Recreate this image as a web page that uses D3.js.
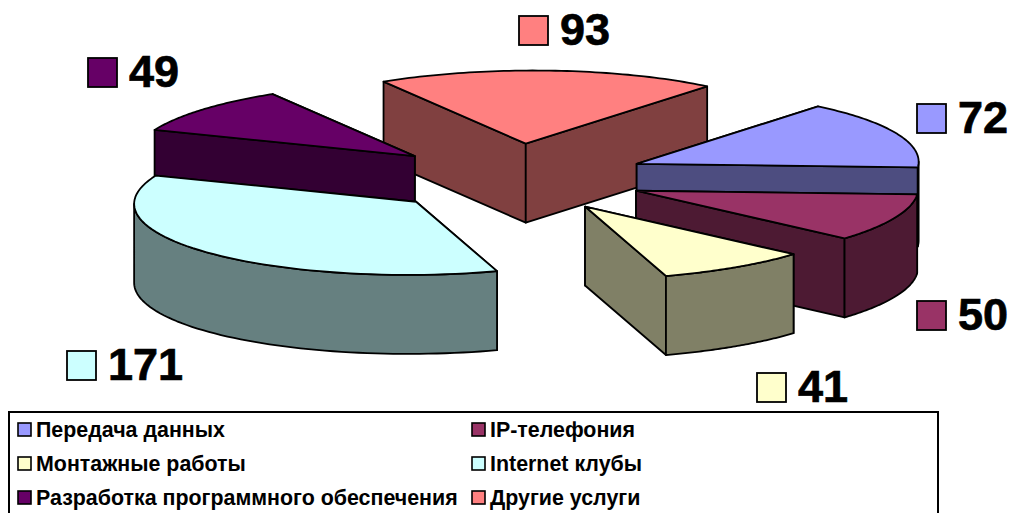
<!DOCTYPE html>
<html><head><meta charset="utf-8">
<script src="https://cdn.jsdelivr.net/npm/d3@7/dist/d3.min.js"></script>
<style>html,body{margin:0;padding:0;background:#fff;overflow:hidden}svg{display:block}text{font-family:"Liberation Sans",Arial,sans-serif;font-weight:bold;fill:#000}</style>
</head><body><svg id="c" width="1014" height="513"></svg>
<script>
const categories=["Передача данных","IP-телефония","Монтажные работы","Internet клубы","Разработка программного обеспечения","Другие услуги"];
const values=[72,50,41,171,49,93];
const topColors=["#9999ff","#993366","#ffffcc","#ccffff","#660066","#ff8080"];
const wallColors=["#4d4d80","#4d1a33","#808066","#668080","#330033","#804040"];
const drawOrder=[5,4,0,1,2,3];
const labelAt=[[917,104],[917,301],[757,373],[67,351],[88,58],[519,16]];

const W=1014,H=513,cx=514.5,cy=178,R=281,explode=132,tilt=0.26,skew=0.083,shearY=0.014,depth=79;
const startOffset=35.3*Math.PI/180;
const px=(r,a)=>r*Math.sin(a)+skew*r*Math.cos(a);
const py=(r,a)=>-r*tilt*Math.cos(a)+shearY*r*Math.sin(a);
const proj=(o,r,a)=>[o[0]+px(r,a),o[1]+py(r,a)];
const svg=d3.select("#c");
const slices=d3.pie().sort(null).startAngle(startOffset).endAngle(startOffset+2*Math.PI)
  .value(d=>d)(values).map((p,i)=>({i,a0:p.startAngle,a1:p.endAngle}));
const line=d3.line();
function poly(g,pts,fill){
  g.append("path").attr("d",line(pts)+"Z").attr("fill",fill)
   .attr("stroke","#000").attr("stroke-width",1.8).attr("stroke-linejoin","round");
}
const steps=(a,b)=>d3.range(0,61).map(t=>a+(b-a)*t/60);
const front0=Math.atan2(1,skew),front1=front0+Math.PI;
drawOrder.forEach(i=>{
  const s=slices[i],mid=(s.a0+s.a1)/2;
  const o=[cx+px(explode,mid),cy+py(explode,mid)];
  const down=p=>[p[0],p[1]+depth];
  const g=svg.append("g");
  [s.a0,s.a1].sort((a,b)=>Math.cos(b)-Math.cos(a)).forEach(a=>{
    const e=proj(o,R,a);
    poly(g,[o,e,down(e),down(o)],wallColors[i]);
  });
  [0,2*Math.PI].forEach(k=>{
    const lo=Math.max(s.a0,front0+k),hi=Math.min(s.a1,front1+k);
    if(hi>lo){
      const arc=steps(lo,hi).map(a=>proj(o,R,a));
      poly(g,arc.concat(arc.slice().reverse().map(down)),wallColors[i]);
    }
  });
  poly(g,[o].concat(steps(s.a0,s.a1).map(a=>proj(o,R,a))),topColors[i]);
});
values.forEach((v,i)=>{
  const [x,y]=labelAt[i];
  svg.append("rect").attr("x",x).attr("y",y).attr("width",29).attr("height",29)
    .attr("fill",topColors[i]).attr("stroke","#000").attr("stroke-width",1.8);
  svg.append("text").attr("x",x+41).attr("y",y+29).attr("font-size",45).attr("stroke","#000").attr("stroke-width",.7).text(v);
});
svg.append("path").attr("d","M9,"+(H+4)+"V412H938V"+(H+4)).attr("fill","#fff").attr("stroke","#000").attr("stroke-width",2);
const lx=[18,472],ly=[430,464,498];
categories.forEach((c,i)=>{
  const x=lx[i%2],y=ly[Math.floor(i/2)];
  svg.append("rect").attr("x",x).attr("y",y-7).attr("width",13).attr("height",13)
    .attr("fill",topColors[i]).attr("stroke","#000").attr("stroke-width",1.6);
  svg.append("text").attr("x",x+18).attr("y",y+6.5).attr("font-size",21.4).text(c);
});
</script></body></html>
